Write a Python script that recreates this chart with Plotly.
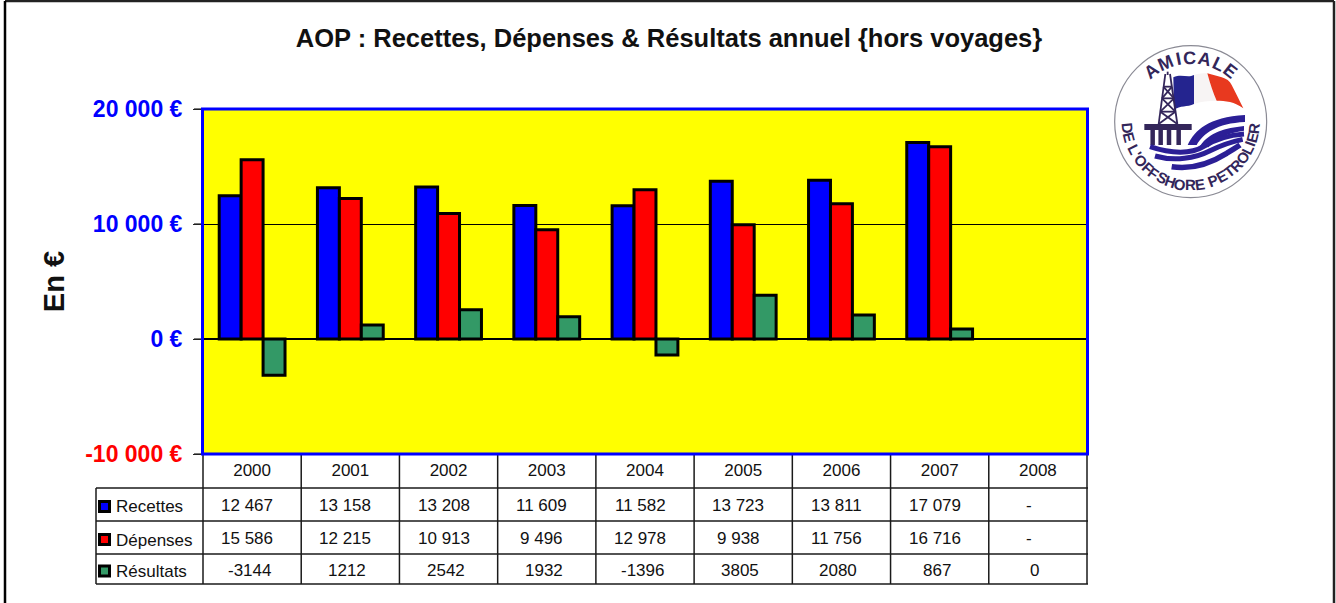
import math
import re
import plotly.graph_objects as go

# ---- data ----
years = ["2000", "2001", "2002", "2003", "2004", "2005", "2006", "2007", "2008"]
recettes = [12467, 13158, 13208, 11609, 11582, 13723, 13811, 17079, None]
depenses = [15586, 12215, 10913, 9496, 12978, 9938, 11756, 16716, None]
resultats = [-3144, 1212, 2542, 1932, -1396, 3805, 2080, 867, 0]

recettes_txt = ["12 467", "13 158", "13 208", "11 609", "11 582", "13 723", "13 811", "17 079", "-"]
depenses_txt = ["15 586", "12 215", "10 913", "9 496", "12 978", "9 938", "11 756", "16 716", "-"]
resultats_txt = ["-3144", "1212", "2542", "1932", "-1396", "3805", "2080", "867", "0"]

series_names = ["Recettes", "Dépenses", "Résultats"]
series_colors = ["#0000FF", "#FF0000", "#339966"]

tick_vals = [-10000, 0, 10000, 20000]
tick_text = ["-10 000 €", "0 €", "10 000 €", "20 000 €"]
tick_colors = ["#FF0000", "#0000FF", "#0000FF", "#0000FF"]

title_text = "AOP : Recettes, Dépenses & Résultats annuel {hors voyages}"
y_title = "En €"

# ---- layout helpers ----
W, H = 1336, 603
FONT = "Liberation Sans, Arial, sans-serif"
NAVY = "#33265A"
WAVE = "#2B1F96"


def px(x):
    return x / W


def py(y):
    return 1 - y / H


PLOT_L, PLOT_R, PLOT_T, PLOT_B = 203, 1087, 109, 454
Y_MIN, Y_MAX = tick_vals[0], tick_vals[-1]
TABLE_L = 96
ROWS = [454, 488, 521, 554, 584]
COL_W = (PLOT_R - PLOT_L) / len(years)

shapes = []
annotations = []


def line(x0, y0, x1, y1, color="#1a1a1a", width=1.5):
    shapes.append(dict(type="line", xref="paper", yref="paper", x0=px(x0), y0=py(y0),
                       x1=px(x1), y1=py(y1), line=dict(color=color, width=width), layer="above"))


# outer frame
line(5, 1, 1334, 1, "#222222", 2.5)
line(5, 1, 5, 603, "#000000", 2.5)
line(1334, 1, 1334, 603, "#222222", 2.5)

# table grid
for r in ROWS[1:]:
    line(TABLE_L, r, PLOT_R + 1, r)
line(TABLE_L, ROWS[1], TABLE_L, ROWS[-1])
line(PLOT_L, ROWS[0], PLOT_L, ROWS[-1])
for i in range(1, len(years) + 1):
    line(PLOT_L + i * COL_W, ROWS[0], PLOT_L + i * COL_W, ROWS[-1])

# y tick marks and plot frame
for v in tick_vals:
    ty = PLOT_B - (v - Y_MIN) / (Y_MAX - Y_MIN) * (PLOT_B - PLOT_T)
    line(194, ty, PLOT_L, ty, "#222222", 1.2)
shapes.append(dict(type="rect", xref="paper", yref="paper", x0=px(PLOT_L - 0.5), x1=px(PLOT_R + 0.5),
                   y0=py(PLOT_B), y1=py(PLOT_T), line=dict(color="#0000FF", width=3), layer="above"))

# table rows
rows_txt = [recettes_txt, depenses_txt, resultats_txt]
for ri, (name, color, vals) in enumerate(zip(series_names, series_colors, rows_txt)):
    yc = (ROWS[ri + 1] + ROWS[ri + 2]) / 2
    shapes.append(dict(type="rect", xref="paper", yref="paper", x0=px(99.5), x1=px(109.5),
                       y0=py(yc - 3), y1=py(yc + 7), fillcolor=color,
                       line=dict(color="#000000", width=3), layer="above"))
    annotations.append(dict(text=name, xref="paper", yref="paper", x=px(114), y=py(yc + 2.5), xanchor="left",
                            yanchor="middle", showarrow=False, font=dict(family=FONT, size=17, color="#111111")))
    for i, v in enumerate(vals):
        shift = -9 if v == "-" else (-3 if ri == 2 else -5)
        annotations.append(dict(text=v, xref="x", yref="paper", x=i, y=py(yc + 1), xshift=shift,
                                yanchor="middle", showarrow=False, font=dict(family=FONT, size=17, color="#111111")))

# ---- logo (decorative), coordinates in a local 3x frame ----
LOGO_X, LOGO_Y = 1100, 30


def lp(path):
    def rep(m):
        zx, zy = float(m.group(1)), float(m.group(2))
        return f"{px(LOGO_X + zx / 3):.5f},{py(LOGO_Y + zy / 3):.5f}"
    return re.sub(r"(-?\d+\.?\d*),(-?\d+\.?\d*)", rep, path)


def lshape(path, fill=None, stroke=None, width=0):
    d = dict(type="path", xref="paper", yref="paper", path=lp(path), layer="above",
             line=dict(color=stroke or "rgba(0,0,0,0)", width=width))
    if fill:
        d["fillcolor"] = fill
    shapes.append(d)


CX, CY, R = 272, 275, 228
shapes.append(dict(type="circle", xref="paper", yref="paper",
                   x0=px(LOGO_X + (CX - R) / 3), x1=px(LOGO_X + (CX + R) / 3),
                   y0=py(LOGO_Y + (CY - R) / 3), y1=py(LOGO_Y + (CY + R) / 3),
                   line=dict(color="#8a8a94", width=1.2), layer="above"))

# flag
lshape("M220,142 C245,130 262,145 282,135 L282,222 C262,232 240,225 222,240 Z", fill="#24248F")
lshape("M282,135 C295,130 310,130 322,130 C330,160 340,190 350,212 C325,212 300,215 282,222 Z", fill="#F7F4F4")
lshape("M322,130 C350,140 385,140 395,165 C408,190 420,215 430,235 C405,215 375,212 350,212 C340,190 330,160 322,130 Z",
       fill="#E8391F")
# derrick
for seg in ["M196,132 L176,282", "M210,132 L232,282", "M203,125 L203,135", "M190,170 L216,170",
            "M186,205 L222,205", "M181,245 L226,245", "M190,170 L222,205", "M216,170 L186,205",
            "M186,205 L226,245", "M222,205 L181,245", "M181,245 L232,282", "M226,245 L176,282"]:
    lshape(seg, stroke=NAVY, width=1.8)
lshape("M133,282 L275,282 L275,300 L133,300 Z", fill=NAVY)
for lx in [158, 182, 207, 236]:
    lshape(f"M{lx},300 L{lx},345", stroke=NAVY, width=4.5)
# waves
lshape("M263,345 C285,300 325,262 435,255 L435,276 C350,280 310,310 290,345 Z", fill=WAVE)
lshape("M300,348 C330,305 375,295 432,288 L432,302 C385,308 350,325 325,352 Z", fill=WAVE)
lshape("M150,350 C215,372 275,372 310,350 C345,328 385,315 432,312", stroke=WAVE, width=5)
lshape("M165,378 C225,395 285,385 330,362 C365,345 395,335 428,328", stroke=WAVE, width=5)
lshape("M215,410 C280,420 340,395 380,370 C395,360 410,352 420,345", stroke=WAVE, width=5.5)


def char_w(c):
    return {"I": 0.45, " ": 0.5, "'": 0.35, "L": 0.85, "E": 0.95, "F": 0.9, "O": 1.15, "M": 1.2}.get(c, 1.0)


def arc_text(text, a0, a1, radius, bottom, size):
    weights = [char_w(c) for c in text]
    total = sum(weights) - (weights[0] + weights[-1]) / 2
    pos = 0.0
    for i, c in enumerate(text):
        if i:
            pos += (weights[i - 1] + weights[i]) / 2
        ang = a0 + (a1 - a0) * pos / total
        rad = math.radians(ang)
        if bottom:
            zx, zy = CX - radius * math.sin(rad), CY + radius * math.cos(rad)
        else:
            zx, zy = CX + radius * math.sin(rad), CY - radius * math.cos(rad)
        if c != " ":
            annotations.append(dict(text=f"<b>{c}</b>", xref="paper", yref="paper", x=px(LOGO_X + zx / 3),
                                    y=py(LOGO_Y + zy / 3), xanchor="center", yanchor="middle",
                                    showarrow=False, textangle=ang,
                                    font=dict(family=FONT, size=size, color=NAVY)))


arc_text("AMICALE", -38, 38, 192, False, 18)
arc_text("DE L'OFFSHORE PETROLIER", 84, -84, 190, True, 15)

# ---- traces ----
fig = go.Figure()
for name, color, vals in zip(series_names, series_colors, [recettes, depenses, resultats]):
    widths = [0 if (v is None or v == 0) else 3 for v in vals]
    fig.add_trace(go.Bar(name=name, x=years, y=vals, marker=dict(color=color, line=dict(color="#000000", width=widths))))

ticks = [f'<span style="color:{c}"><b>{t}</b></span>' for c, t in zip(tick_colors, tick_text)]

fig.update_layout(
    width=W, height=H, autosize=False, margin=dict(l=0, r=0, t=0, b=0),
    paper_bgcolor="#FFFFFF", plot_bgcolor="#FFFF00", showlegend=False,
    barmode="group", bargap=0.33, bargroupgap=0,
    font=dict(family=FONT),
    title=dict(text=f"<b>{title_text}</b>", x=669 / W, xanchor="center", y=py(38), yanchor="middle",
               font=dict(family=FONT, size=25.5, color="#111111")),
    shapes=shapes, annotations=annotations,
    xaxis=dict(type="category", categoryorder="array", categoryarray=years, range=[-0.5, len(years) - 0.5],
               automargin=False, domain=[px(PLOT_L), px(PLOT_R)], showgrid=False, ticks="", zeroline=False,
               showline=False,
               tickfont=dict(family=FONT, size=17, color="#111111"), ticklabelstandoff=4),
    yaxis=dict(domain=[py(PLOT_B), py(PLOT_T)], range=[Y_MIN, Y_MAX], tickmode="array", automargin=False,
               tickvals=tick_vals, ticktext=ticks, showgrid=True, gridcolor="#000000", gridwidth=1.2,
               zeroline=True, zerolinecolor="#000000", zerolinewidth=1.5,
               showline=False,
               ticks="outside", ticklen=9, tickcolor="#222222", tickwidth=1.2,
               tickfont=dict(family=FONT, size=23), ticklabelstandoff=6,
               title=dict(text=f"<b>{y_title}</b>", standoff=12, font=dict(family=FONT, size=29, color="#111111"))),
)

fig.write_html("out.html", config=dict(displayModeBar=False),
               post_script="document.body.style.margin='0';document.body.style.overflow='hidden';")
